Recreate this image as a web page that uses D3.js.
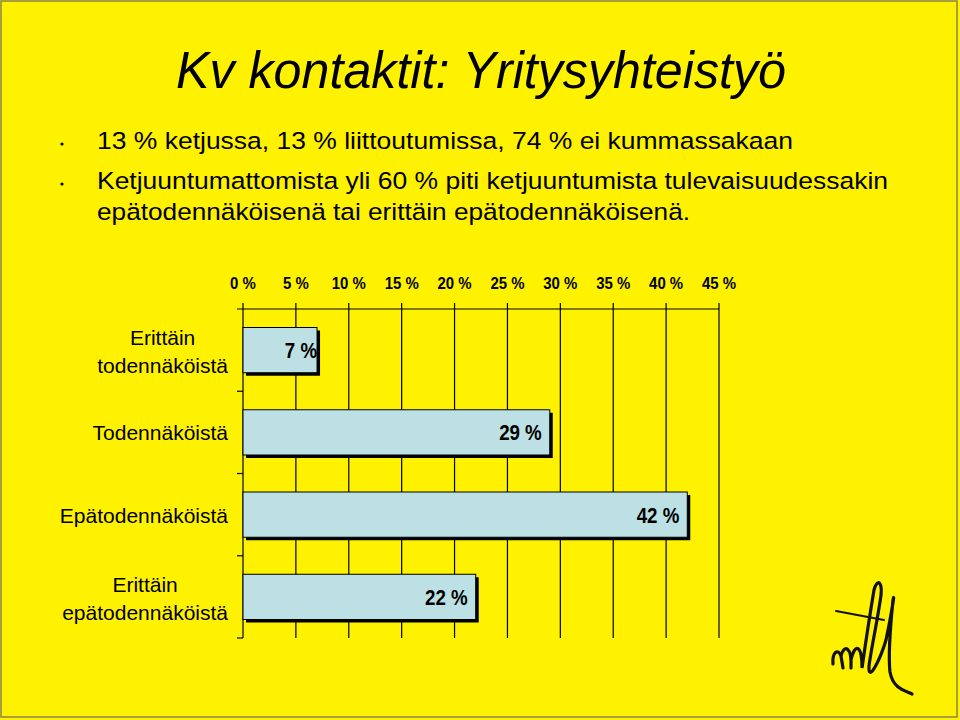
<!DOCTYPE html>
<html><head><meta charset="utf-8">
<script src="https://cdn.jsdelivr.net/npm/d3@7"></script>
<style>body{margin:0;background:#fff}svg{display:block}</style>
</head><body>
<script>
const title = "Kv kontaktit: Yritysyhteistyö";
const bullets = [
  ["13 % ketjussa, 13 % liittoutumissa, 74 % ei kummassakaan"],
  ["Ketjuuntumattomista yli 60 % piti ketjuuntumista tulevaisuudessakin", "epätodennäköisenä tai erittäin epätodennäköisenä."]
];
const categories = [["Erittäin", "todennäköistä"], ["Todennäköistä"], ["Epätodennäköistä"], ["Erittäin", "epätodennäköistä"]];
const values = [7, 29, 42, 22];
const tickValues = [0, 5, 10, 15, 20, 25, 30, 35, 40, 45];

const FONT = "Liberation Sans, Arial, Helvetica, sans-serif";
const W = 960, H = 720;
const svg = d3.select("body").append("svg").attr("width", W).attr("height", H);
svg.append("rect").attr("x", 0).attr("y", 0).attr("width", W).attr("height", H).attr("fill", "#fff200");
svg.append("rect").attr("x", 1).attr("y", 1).attr("width", 956).attr("height", 716)
  .attr("fill", "none").attr("stroke", "#8a8450").attr("stroke-width", 1.5);

// title
svg.append("text").attr("x", 176).attr("y", 88).text(title)
  .attr("font-family", FONT).attr("font-style", "italic")
  .attr("font-size", 52).attr("textLength", 610).attr("lengthAdjust", "spacingAndGlyphs").attr("fill", "#000");

// bullets
const bulletY = [[149], [189, 220]];
const bulletW = [[696], [791], [593]];
bullets.forEach((lines, i) => {
  svg.append("circle").attr("cx", 62).attr("cy", bulletY[i][0] - 5).attr("r", 1.6).attr("fill", "#000");
  lines.forEach((l, j) => {
    const t = svg.append("text").attr("x", 97).attr("y", bulletY[i][j]).text(l)
      .attr("font-family", FONT).attr("font-size", 24.5).attr("fill", "#000");
    const w = t.node().getComputedTextLength();
    const target = i === 0 ? 696 : (j === 0 ? 791 : 593);
    if (Math.abs(w - target) > 3) t.attr("textLength", target).attr("lengthAdjust", "spacingAndGlyphs");
  });
});

// chart
const x = d3.scaleLinear().domain([0, 45]).range([243, 719]);
const y = d3.scaleBand().domain(d3.range(categories.length)).range([309, 638]).paddingInner(0.45).paddingOuter(0.225);
const g = svg.append("g");

// gridlines
g.selectAll(".grid").data(tickValues).join("line")
  .attr("x1", d => x(d)).attr("x2", d => x(d)).attr("y1", 303).attr("y2", 638)
  .attr("stroke", "#000").attr("stroke-width", 1.2);
// top axis line
g.append("line").attr("x1", 237).attr("x2", x(45)).attr("y1", 309).attr("y2", 309).attr("stroke", "#000").attr("stroke-width", 1.2);
// left category ticks
const bounds = d3.range(categories.length + 1).map(i => 309 + i * y.step());
g.selectAll(".ytick").data(bounds.slice(1)).join("line")
  .attr("x1", 237).attr("x2", 243).attr("y1", d => d).attr("y2", d => d).attr("stroke", "#000").attr("stroke-width", 1.2);

// tick labels (narrow bold)
g.selectAll(".tl").data(tickValues).join("text")
  .attr("transform", d => `translate(${x(d)},289) scale(0.88,1)`).attr("text-anchor", "middle")
  .attr("font-family", FONT).attr("font-weight", "bold").attr("font-size", 17)
  .text(d => d + " %");

// shadows and bars
g.selectAll(".sh").data(values).join("rect")
  .attr("x", x(0) + 3).attr("y", (d, i) => y(i) + 3).attr("width", d => x(d) - x(0)).attr("height", y.bandwidth())
  .attr("fill", "#000");
g.selectAll(".bar").data(values).join("rect")
  .attr("x", x(0)).attr("y", (d, i) => y(i)).attr("width", d => x(d) - x(0)).attr("height", y.bandwidth())
  .attr("fill", "#bce0e4").attr("stroke", "#000").attr("stroke-width", 1);

g.selectAll(".vl").data(values).join("text")
  .attr("transform", (d, i) => `translate(${x(d) - (d < 10 ? 0 : 8)},${y(i) + y.bandwidth() / 2 + 8}) scale(0.87,1)`)
  .attr("text-anchor", "end").attr("font-family", FONT)
  .attr("font-weight", "bold").attr("font-size", 21.5).text(d => d + " %");

// category labels
categories.forEach((lines, i) => {
  const cy = y(i) + y.bandwidth() / 2;
  const t = svg.append("text").attr("font-family", FONT).attr("font-size", 21).attr("fill", "#000");
  if (lines.length === 1) {
    t.attr("x", 228).attr("y", cy + 8).attr("text-anchor", "end").text(lines[0]);
  } else {
    t.attr("text-anchor", "middle");
    const tmp = svg.append("text").attr("font-family", FONT).attr("font-size", 21).text(lines[1]);
    const w = tmp.node().getComputedTextLength(); tmp.remove();
    const cx = 228 - w / 2;
    lines.forEach((l, j) => t.append("tspan").attr("x", cx).attr("y", cy - 5 + j * 28).text(l));
  }
});

// logo signature
const logo = svg.append("g").attr("fill", "none").attr("stroke", "#111").attr("stroke-width", 3.2).attr("stroke-linecap", "round");
logo.append("path").attr("d", "M836,611 L884,620").attr("stroke-width", 2);
logo.append("path").attr("d", "M833,664 C832,652 838,648 841,656 L843,668 M841,656 C844,644 852,646 851,668 M851,660 C855,642 862,645 862,668 C866,640 871,608 874,590 C877,578 884,580 880,602 C876,628 871,650 869,666 C868,684 880,660 886,640 C892,612 895,590 893,600 C890,630 888,655 890,672 C893,688 903,690 912,694");
</script>
</body></html>
